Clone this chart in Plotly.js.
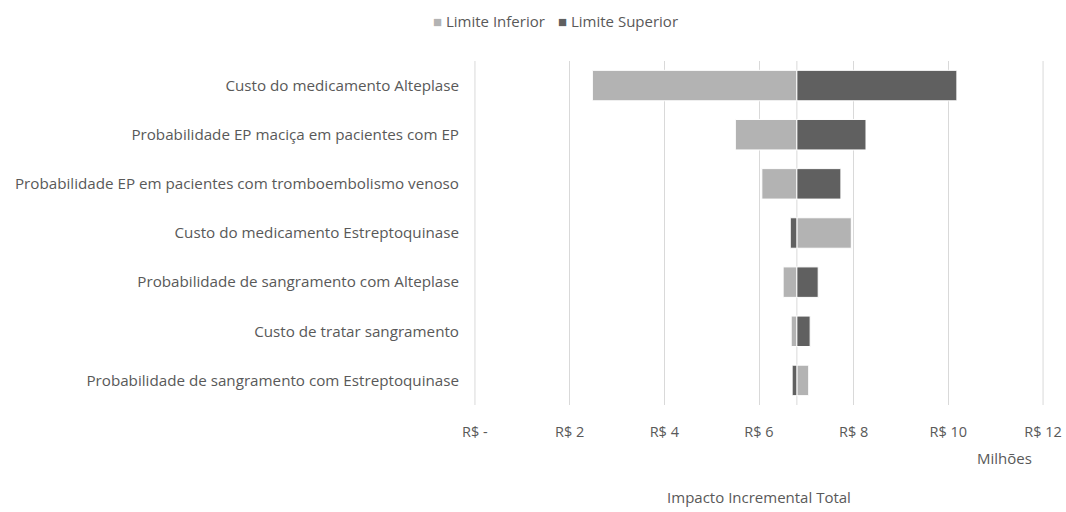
<!DOCTYPE html>
<html>
<head>
<meta charset="utf-8">
<script src="https://cdn.plot.ly/plotly-3.0.1.min.js"></script>
<style>html,body{margin:0;padding:0;background:#fff;}#chart{width:1066px;height:512px;}</style>
</head>
<body>
<div id="chart"></div>
<script>
const categories = [
  "Custo do medicamento Alteplase",
  "Probabilidade EP maciça em pacientes com EP",
  "Probabilidade EP em pacientes com tromboembolismo venoso",
  "Custo do medicamento Estreptoquinase",
  "Probabilidade de sangramento com Alteplase",
  "Custo de tratar sangramento",
  "Probabilidade de sangramento com Estreptoquinase"
];
// values in R$ millions
const baseValue = 6.8;
const limiteInferior = [2.48, 5.50, 6.06, 7.95, 6.51, 6.68, 7.05];
const limiteSuperior = [10.18, 8.26, 7.73, 6.66, 7.25, 7.08, 6.70];
const tickValues = [0, 2, 4, 6, 8, 10, 12];
const tickLabels = ["R$ -", "R$ 2", "R$ 4", "R$ 6", "R$ 8", "R$ 10", "R$ 12"];

const FONT = "Open Sans, sans-serif";
const TXT = "#595959";
const LIGHT = "#b3b3b3";
const DARK = "#606060";
const GRID = "#d9d9d9";

const traces = [
  {
    type: "bar", orientation: "h", name: "Limite Inferior",
    y: categories,
    x: limiteInferior.map(v => v - baseValue),
    base: limiteInferior.map(() => baseValue),
    marker: {color: LIGHT, line: {color: "#ffffff", width: 1}},
    width: 0.62, showlegend: false
  },
  {
    type: "bar", orientation: "h", name: "Limite Superior",
    y: categories,
    x: limiteSuperior.map(v => v - baseValue),
    base: limiteSuperior.map(() => baseValue),
    marker: {color: DARK, line: {color: "#ffffff", width: 1}},
    width: 0.62, showlegend: false
  }
];

const vline = v => ({
  type: "line", xref: "x", yref: "paper", x0: v, x1: v, y0: 0, y1: 1,
  line: {color: GRID, width: 1}, layer: "below"
});

const layout = {
  width: 1066, height: 512,
  margin: {l: 474, r: 22, t: 61, b: 107},
  paper_bgcolor: "#ffffff", plot_bgcolor: "#ffffff",
  barmode: "overlay",
  font: {family: FONT, color: TXT, size: 15},
  showlegend: false,
  xaxis: {
    range: [-0.02, 12.02], tickvals: tickValues, ticktext: tickLabels,
    showgrid: true, gridcolor: GRID, gridwidth: 1,
    zeroline: false, showline: false, ticks: "",
    tickfont: {family: FONT, size: 14.5, color: TXT},
    ticklabelstandoff: 16,
    title: {text: "Impacto Incremental Total", font: {family: FONT, size: 15, color: TXT}, standoff: 52}
  },
  yaxis: {
    type: "category", autorange: "reversed",
    showgrid: false, zeroline: false, showline: false, ticks: "",
    tickfont: {family: FONT, size: 15.2, color: TXT},
    ticklabelstandoff: 14
  },
  shapes: [
    vline(tickValues[0]),
    vline(tickValues[tickValues.length - 1]),
    vline(baseValue)
  ],
  annotations: [
    {xref: "paper", yref: "paper", x: 0.93, y: -0.155, xanchor: "center", yanchor: "middle",
     text: "Milhões", showarrow: false, font: {family: FONT, size: 15, color: TXT}},
    {xref: "paper", yref: "paper", x: -0.075, y: 1.116, xanchor: "left", yanchor: "middle",
     text: "<span style='color:" + LIGHT + "'>■</span> Limite Inferior", showarrow: false,
     font: {family: FONT, size: 15, color: TXT}},
    {xref: "paper", yref: "paper", x: 0.143, y: 1.116, xanchor: "left", yanchor: "middle",
     text: "<span style='color:" + DARK + "'>■</span> Limite Superior", showarrow: false,
     font: {family: FONT, size: 15, color: TXT}}
  ]
};

Plotly.newPlot("chart", traces, layout, {displayModeBar: false, staticPlot: true});
</script>
</body>
</html>
